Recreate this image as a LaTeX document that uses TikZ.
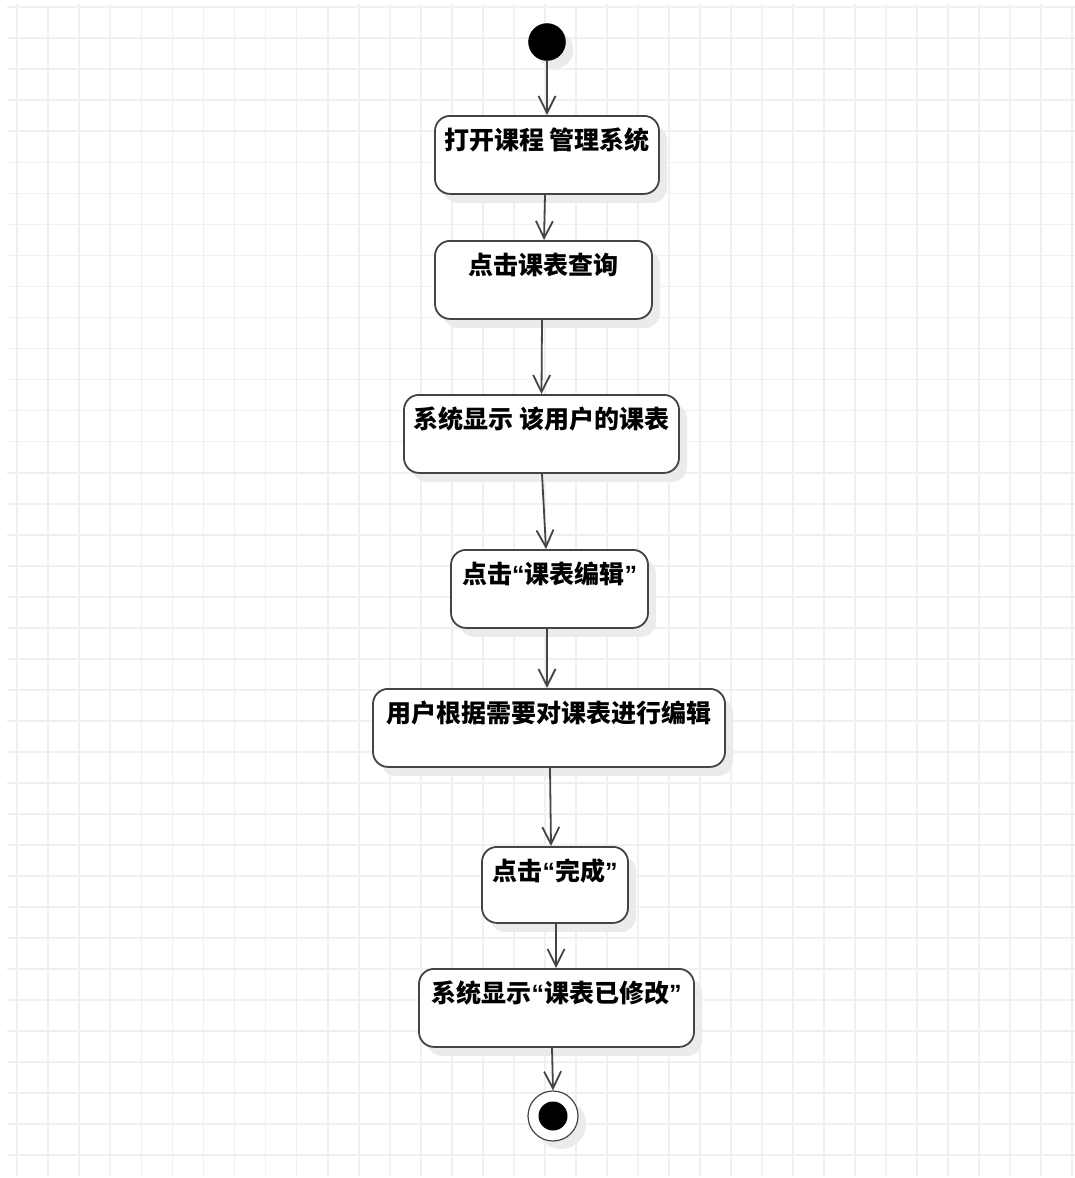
\documentclass[tikz,border=0pt]{standalone}
\usepackage{fontspec}
\setmainfont{Noto Sans CJK SC}
\newfontfamily\latq{Liberation Sans}
\newcommand{\myLQ}{{\latq\bfseries “}}
\newcommand{\myRQ}{{\latq\bfseries ”}}
\usetikzlibrary{arrows.meta,shadows}
\definecolor{gridc}{HTML}{F0F0F0}
\definecolor{linec}{HTML}{444444}
\definecolor{shad}{HTML}{EBEBEB}
\tikzset{
  x=1pt,y=-1pt,
  act/.style={draw=linec,line width=1.8pt,rounded corners=15pt,fill=white,
    inner xsep=0pt,inner ysep=5pt,text height=29pt,text depth=39pt,
    font=\fontsize{25}{29}\selectfont\bfseries,anchor=north,
    general shadow={fill=shad,shadow xshift=8pt,shadow yshift=-9pt}},
  flow/.style={draw=linec,line width=1.8pt,-{Straight Barb[length=17pt,width=17pt,line width=1.8pt]}},
}
\begin{document}
\begin{tikzpicture}
\useasboundingbox (0,0) rectangle (1075,1178);
% grid
\foreach \k in {0,...,34}{\draw[gridc,line width=1.8pt] ({17.3+31.03*\k},4) -- ({17.3+31.03*\k},1176);}
\foreach \k in {0,...,37}{\draw[gridc,line width=1.8pt] (7,{7.3+31.02*\k}) -- (1075,{7.3+31.02*\k});}
% start
\fill[shad] (555,50) circle (18.5);
\node[circle,fill=black,draw=black,minimum size=37pt,inner sep=0pt] (start) at (547,42) {};
% activities
\node[act,minimum width=224pt] (b1) at (547,115) {打开课程 管理系统};
\node[act,minimum width=217pt] (b2) at (543.5,240) {点击课表查询};
\node[act,minimum width=275pt] (b3) at (541.5,394) {系统显示 该用户的课表};
\node[act,minimum width=197pt] (b4) at (549.5,549) {点击\myLQ 课表编辑\myRQ};
\node[act,minimum width=352pt] (b5) at (549,688) {用户根据需要对课表进行编辑};
\node[act,minimum width=146pt,text depth=37pt] (b6) at (555,846) {点击\myLQ 完成\myRQ};
\node[act,minimum width=275pt] (b7) at (556.5,968) {系统显示\myLQ 课表已修改\myRQ};
% end
\fill[shad] (561,1124) circle (25);
\node[circle,draw=linec,line width=1.2pt,fill=white,minimum size=50pt,inner sep=0pt] (end) at (553,1116) {};
\fill[black] (end.center) circle (14.5);
% connectors
\draw[flow] (start) -- (b1.north);
\draw[flow] ([xshift=-2pt]b1.south) -- ([xshift=0.5pt]b2.north);
\draw[flow] ([xshift=-1.5pt]b2.south) -- (b3.north);
\draw[flow] ([xshift=0.5pt]b3.south) -- ([xshift=-3.5pt]b4.north);
\draw[flow] ([xshift=-2.5pt]b4.south) -- ([xshift=-2pt]b5.north);
\draw[flow] ([xshift=1pt]b5.south) -- ([xshift=-4pt]b6.north);
\draw[flow] ([xshift=1pt]b6.south) -- ([xshift=-0.5pt]b7.north);
\draw[flow] ([xshift=-4.5pt]b7.south) -- (end.north);
\end{tikzpicture}
\end{document}
